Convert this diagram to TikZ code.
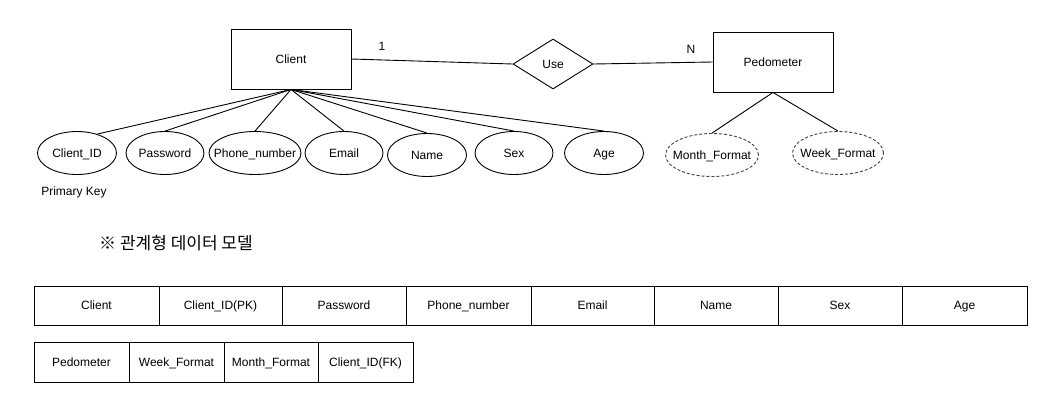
\documentclass[tikz,border=0pt]{standalone}
\usepackage{fontspec}
\setmainfont{Liberation Sans}
\newfontfamily\kfont{Noto Sans CJK KR}
\usetikzlibrary{shapes.geometric}

\begin{document}
\begin{tikzpicture}[x=1pt,y=-1pt,line width=0.9pt,font=\fontsize{12}{14}\selectfont,
    every node/.style={text height=11pt,text depth=2.4pt},
    entity/.style={draw,minimum width=120,minimum height=60},
    attr/.style={draw,ellipse,inner sep=0pt,minimum width=79,minimum height=43},
    weak/.style={attr,draw=black!75,dash pattern=on 3pt off 2pt}]
\useasboundingbox (0,0) rectangle (1051,413);
\node[entity] (client) at (291,59) {Client};
\node[entity] (pedo) at (773,62) {Pedometer};
\node[draw,diamond,inner sep=0pt,minimum width=80,minimum height=50] (use) at (553,64) {Use};
\draw (client.east) -- (use.west);
\draw (use.east) -- (pedo.west);
\node (one) at (382,46) {1};
\node (many) at (691,49) {N};
\foreach \n/\x/\y/\w/\t in {cid/77/153/79/Client\_ID, pw/165/153/78/Password,
    phone/255/153/92/Phone\_number, email/344/153/78/Email, name/427/155/79/Name,
    sex/514/153/78/Sex, age/604/153/79/Age}
  \node[attr,minimum width=\w] (\n) at (\x,\y) {\makebox[0pt]{\t}};
\draw (client.south) -- (cid.43);
\foreach \n in {pw,phone,email,name,sex,age}
  \draw (client.south) -- (\n.north);
\node[weak,minimum width=93] (month) at (712,155) {\makebox[0pt]{Month\_Format}};
\node[weak,minimum width=91] (week) at (838,153) {\makebox[0pt]{Week\_Format}};
\draw (pedo.south) -- (month.north);
\draw (pedo.south) -- (week.north);
\node (pk) at (74,191) {Primary Key};
\node[font=\kfont\fontsize{17}{20}\selectfont] (title) at (176,245) {※ 관계형 데이터 모델};
\foreach \a/\b/\t [count=\i] in {34/159/Client, 159/282/Client\_ID(PK), 282/406/Password,
    406/531/Phone\_number, 531/654/Email, 654/778/Name, 778/902/Sex, 902/1027/Age}
  \draw (\a,286) rectangle node (ra\i) {\t} (\b,325);
\foreach \a/\b/\t [count=\i] in {34/129/Pedometer, 129/224/Week\_Format,
    224/318/Month\_Format, 318/413/Client\_ID(FK)}
  \draw (\a,342) rectangle node (rb\i) {\t} (\b,382);
\end{tikzpicture}
\end{document}
